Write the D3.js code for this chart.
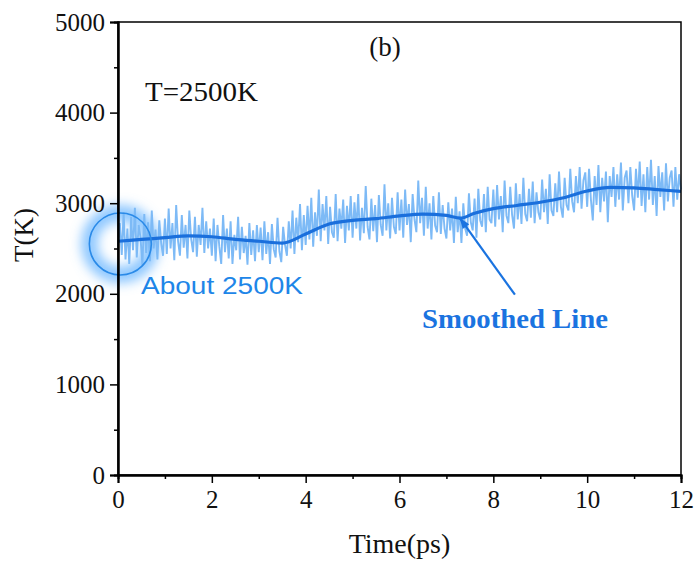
<!DOCTYPE html>
<html>
<head>
<meta charset="utf-8">
<script src="https://cdn.jsdelivr.net/npm/d3@7"></script>
<style>
  body { margin: 0; background: #fff; }
  svg { display: block; }
</style>
</head>
<body>
<div id="chart"></div>
<script>
// raw temperature, one value every 0.04 ps
var rawStep = 0.04;
var rawT = [
  2520,2780,2430,2900,2380,2720,2330,2850,2480,2950,2400,2760,2620,2310,2880,2450,2790,2360,2920,2500,2710,2380,2810,2560,2420,
  2830,2440,2940,2500,2780,2370,2980,2580,2420,2870,2510,2760,2390,2920,2600,2460,2850,2410,2760,2540,2950,2450,2800,2500,2720,
  2420,2830,2360,2760,2520,2330,2870,2460,2720,2390,2800,2330,2650,2480,2850,2380,2740,2450,2640,2320,2780,2430,2700,2360,2760,
  2460,2730,2370,2800,2440,2680,2330,2770,2490,2400,2840,2470,2350,2740,2540,2420,2800,2500,2920,2440,2840,2570,2990,2480,2870,
  2540,2970,2600,3060,2520,2900,2640,3150,2580,2990,2700,3080,2550,2960,2680,2620,3100,2580,2940,2720,3040,2560,2970,2700,3080,
  2620,3010,2720,3100,2590,2950,2670,3190,2740,2600,3050,2690,2980,2570,3090,2760,2640,3210,2700,3000,2610,3060,2740,2660,3120,
  2700,3040,2620,3150,2760,2990,2570,3100,2820,2680,3250,2780,3060,2640,3180,2720,3000,2600,3080,2750,2680,3120,2660,2980,2720,
  2610,3010,2700,2940,2560,3070,2680,2910,2560,3000,2720,2640,3110,2790,2700,3050,2620,3160,2810,2740,3100,2680,3180,2820,2780,
  3150,2740,3200,2820,3080,2680,3250,2860,2780,3180,2870,2720,3220,2820,3100,2770,3280,2880,2800,3160,2840,3240,2780,3120,2900,
  2820,3260,2900,3160,2770,3320,2920,2860,3220,2900,3350,2960,2840,3280,2980,2920,3380,3020,2900,3300,3000,3400,2940,3250,3340,
  2960,3380,3040,2810,3300,2980,3420,2900,3280,3020,3350,2790,3300,3070,3400,2960,3320,3040,3450,2920,3280,3360,3000,3400,3080,
  2920,3380,3060,3460,2970,3320,2900,3400,3040,3480,2980,3300,2860,3410,3070,3340,2920,3440,3020,3280,3360,2960,3400,3040,3320,
  3150
];

// smoothed curve
var smoothTime = [0, 0.5, 1, 1.5, 2, 2.5, 3, 3.5, 4, 4.5, 5, 5.5, 6, 6.5, 7, 7.3, 7.6, 8, 8.5, 9, 9.5, 10, 10.5, 11, 11.5, 12];
var smoothT = [2580, 2600, 2620, 2640, 2630, 2600, 2580, 2560, 2660, 2770, 2810, 2830, 2860, 2880, 2865, 2835, 2890, 2940, 2975, 3010, 3060, 3135, 3175, 3170, 3150, 3130];

var xTicks = [0, 2, 4, 6, 8, 10, 12];
var yTicks = [0, 1000, 2000, 3000, 4000, 5000];

const W = 695, H = 562;
const margin = { top: 22, right: 14, bottom: 87, left: 118 };
const width = W - margin.left - margin.right,
      height = H - margin.top - margin.bottom;

const svg = d3.select("#chart")
    .append("svg")
    .attr("width", W)
    .attr("height", H);

const defs = svg.append("defs");
defs.append("filter")
    .attr("id", "glow")
    .attr("x", "-80%").attr("y", "-80%")
    .attr("width", "260%").attr("height", "260%")
  .append("feGaussianBlur")
    .attr("stdDeviation", 6);

const g = svg.append("g")
    .attr("transform", `translate(${margin.left},${margin.top})`);

const x = d3.scaleLinear().domain([0, 12]).range([0, width]);
const y = d3.scaleLinear().domain([0, 5000]).range([height, 0]);

const serif = "'Liberation Serif', 'Times New Roman', serif";

// glow around the starting point
const cx = x(0.05), cy = y(2550);
g.append("circle")
    .attr("cx", cx).attr("cy", cy).attr("r", 31)
    .attr("fill", "none")
    .attr("stroke", "#6ab6ff")
    .attr("stroke-opacity", 0.8)
    .attr("stroke-width", 16)
    .attr("filter", "url(#glow)");

// raw data
const rawData = rawT.map((v, i) => ({ t: i * rawStep, v: v }));
g.append("path")
    .datum(rawData)
    .attr("fill", "none")
    .attr("stroke", "#7dbaf6")
    .attr("stroke-width", 1.9)
    .attr("stroke-linejoin", "bevel")
    .attr("d", d3.line().x(d => x(d.t)).y(d => y(d.v)));

// smoothed line
const smoothData = smoothTime.map((t, i) => ({ t: t, v: smoothT[i] }));
g.append("path")
    .datum(smoothData)
    .attr("fill", "none")
    .attr("stroke", "#1a6fdc")
    .attr("stroke-width", 3.2)
    .attr("d", d3.line().curve(d3.curveMonotoneX).x(d => x(d.t)).y(d => y(d.v)));

g.append("circle")
    .attr("cx", cx).attr("cy", cy).attr("r", 31)
    .attr("fill", "none")
    .attr("stroke", "#2a8ae8")
    .attr("stroke-width", 1.6);

// frame
g.append("rect")
    .attr("width", width).attr("height", height)
    .attr("fill", "none")
    .attr("stroke", "#000")
    .attr("stroke-width", 1.5);

// axes
const xAxis = g.append("g")
    .attr("transform", `translate(0,${height})`)
    .call(d3.axisBottom(x).tickValues(xTicks).tickSize(8).tickPadding(7).tickFormat(d3.format("d")));
const xMinor = g.append("g")
    .attr("transform", `translate(0,${height})`)
    .call(d3.axisBottom(x).tickValues(d3.range(1, 12, 2)).tickSize(4).tickFormat(""));
const yAxis = g.append("g")
    .call(d3.axisLeft(y).tickValues(yTicks).tickSize(8).tickPadding(5).tickFormat(d3.format("d")));
const yMinor = g.append("g")
    .call(d3.axisLeft(y).tickValues(d3.range(500, 5000, 1000)).tickSize(4).tickFormat(""));

[xAxis, xMinor, yAxis, yMinor].forEach(a => {
    a.select(".domain").attr("stroke-width", 2);
    a.selectAll(".tick line").attr("stroke-width", 1.5);
    a.selectAll("text")
        .attr("font-family", serif)
        .attr("font-size", 25)
        .attr("fill", "#111");
});

// axis titles
svg.append("text")
    .attr("x", margin.left + width / 2)
    .attr("y", 553)
    .attr("text-anchor", "middle")
    .attr("font-family", serif)
    .attr("font-size", 28)
    .attr("fill", "#111")
    .text("Time(ps)");

svg.append("text")
    .attr("transform", `translate(33,${margin.top + y(2650)}) rotate(-90)`)
    .attr("text-anchor", "middle")
    .attr("font-family", serif)
    .attr("font-size", 27)
    .attr("fill", "#111")
    .text("T(K)");

// annotations
svg.append("text")
    .attr("x", 385).attr("y", 56)
    .attr("text-anchor", "middle")
    .attr("font-family", serif)
    .attr("font-size", 27)
    .attr("fill", "#111")
    .text("(b)");

svg.append("text")
    .attr("x", 145).attr("y", 101)
    .attr("font-family", serif)
    .attr("font-size", 27)
    .attr("textLength", 113)
    .attr("lengthAdjust", "spacingAndGlyphs")
    .attr("fill", "#111")
    .text("T=2500K");

svg.append("text")
    .attr("x", 141).attr("y", 294)
    .attr("font-family", "'Liberation Sans', Arial, sans-serif")
    .attr("font-size", 23)
    .attr("textLength", 162)
    .attr("lengthAdjust", "spacingAndGlyphs")
    .attr("fill", "#1e86e8")
    .text("About 2500K");

svg.append("text")
    .attr("x", 422).attr("y", 328)
    .attr("font-family", serif)
    .attr("font-weight", "bold")
    .attr("font-size", 27)
    .attr("textLength", 186)
    .attr("lengthAdjust", "spacingAndGlyphs")
    .attr("fill", "#1a73e0")
    .text("Smoothed Line");

// arrow pointing at the smoothed line
const tipX = x(7.28), tipY = y(2840);
const tailX = x(8.46), tailY = y(1990);
g.append("line")
    .attr("x1", tailX).attr("y1", tailY)
    .attr("x2", tipX).attr("y2", tipY)
    .attr("stroke", "#1a73e0")
    .attr("stroke-width", 2.2);
const ang = Math.atan2(tipY - tailY, tipX - tailX);
const hl = 11, hw = 4;
g.append("path")
    .attr("d", d3.line()([
        [tipX, tipY],
        [tipX - hl * Math.cos(ang) + hw * Math.sin(ang), tipY - hl * Math.sin(ang) - hw * Math.cos(ang)],
        [tipX - hl * Math.cos(ang) - hw * Math.sin(ang), tipY - hl * Math.sin(ang) + hw * Math.cos(ang)]
    ]) + "Z")
    .attr("fill", "#1a73e0");
</script>
</body>
</html>
